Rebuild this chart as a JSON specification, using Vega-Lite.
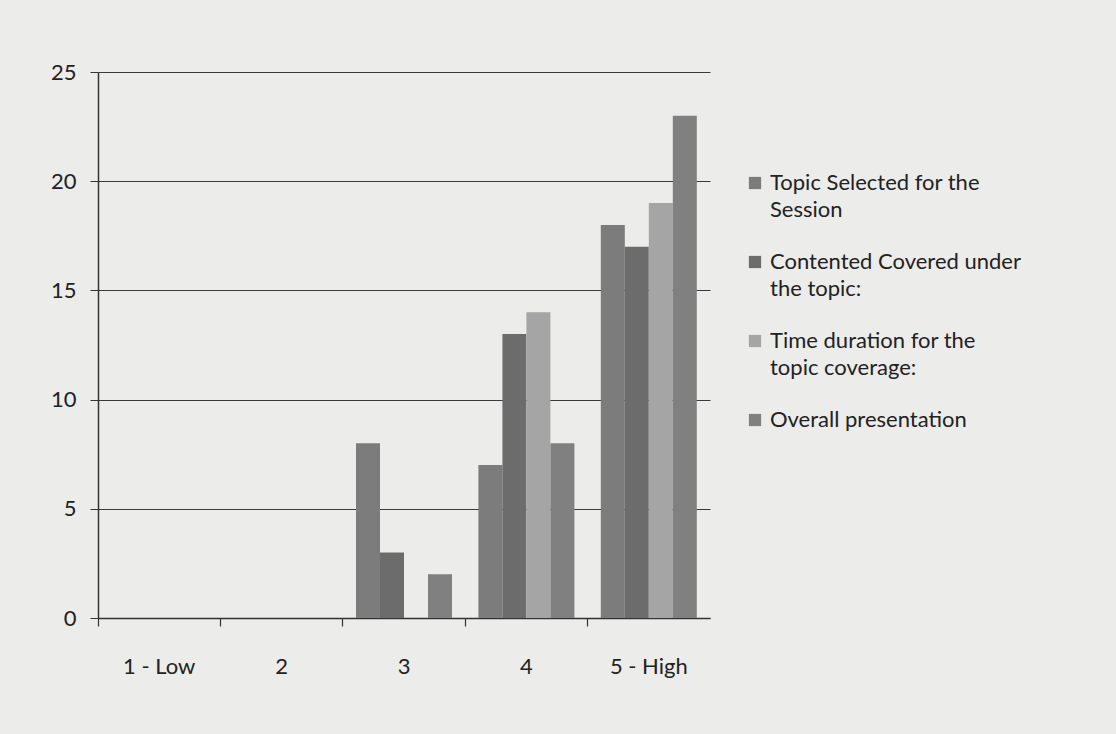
{
  "$schema": "https://vega.github.io/schema/vega-lite/v6.json",
  "autosize": "none",
  "width": 612,
  "height": 546,
  "padding": {"left": 98, "top": 72, "right": 406, "bottom": 116},
  "background": "#ececea",
  "config": {
    "view": {"stroke": null},
    "font": "Lato",
    "style": {"guide-label": {"lineHeight": 27}},
    "axis": {"labelFont": "Lato", "labelColor": "#222222", "domainColor": "#333333", "tickColor": "#333333", "gridColor": "#3a3a3a", "gridWidth": 1.2}
  },
  "data": {
    "values": [
      {"rating": "1 - Low", "series": "Topic Selected for the Session", "count": 0},
      {"rating": "1 - Low", "series": "Contented Covered under the topic:", "count": 0},
      {"rating": "1 - Low", "series": "Time duration for the topic coverage:", "count": 0},
      {"rating": "1 - Low", "series": "Overall presentation", "count": 0},
      {"rating": "2", "series": "Topic Selected for the Session", "count": 0},
      {"rating": "2", "series": "Contented Covered under the topic:", "count": 0},
      {"rating": "2", "series": "Time duration for the topic coverage:", "count": 0},
      {"rating": "2", "series": "Overall presentation", "count": 0},
      {"rating": "3", "series": "Topic Selected for the Session", "count": 8},
      {"rating": "3", "series": "Contented Covered under the topic:", "count": 3},
      {"rating": "3", "series": "Time duration for the topic coverage:", "count": 0},
      {"rating": "3", "series": "Overall presentation", "count": 2},
      {"rating": "4", "series": "Topic Selected for the Session", "count": 7},
      {"rating": "4", "series": "Contented Covered under the topic:", "count": 13},
      {"rating": "4", "series": "Time duration for the topic coverage:", "count": 14},
      {"rating": "4", "series": "Overall presentation", "count": 8},
      {"rating": "5 - High", "series": "Topic Selected for the Session", "count": 18},
      {"rating": "5 - High", "series": "Contented Covered under the topic:", "count": 17},
      {"rating": "5 - High", "series": "Time duration for the topic coverage:", "count": 19},
      {"rating": "5 - High", "series": "Overall presentation", "count": 23}
    ]
  },
  "mark": {"type": "bar"},
  "encoding": {
    "x": {
      "field": "rating",
      "type": "nominal",
      "sort": ["1 - Low", "2", "3", "4", "5 - High"],
      "scale": {"paddingInner": 0, "paddingOuter": 0},
      "axis": {
        "title": null,
        "labelAngle": 0,
        "labelFontSize": 22,
        "labelPadding": 30,
        "tickSize": 8,
        "tickWidth": 1.2,
        "bandPosition": 0,
        "domainWidth": 1.5
      }
    },
    "xOffset": {
      "field": "series",
      "type": "nominal",
      "sort": ["Topic Selected for the Session", "Contented Covered under the topic:", "Time duration for the topic coverage:", "Overall presentation"],
      "scale": {"paddingInner": 0, "paddingOuter": 0.55}
    },
    "y": {
      "field": "count",
      "type": "quantitative",
      "scale": {"domain": [0, 25]},
      "axis": {
        "title": null,
        "values": [0, 5, 10, 15, 20, 25],
        "labelFontSize": 22,
        "labelPadding": 14,
        "tickSize": 8,
        "grid": true,
        "domainWidth": 1.5
      }
    },
    "color": {
      "field": "series",
      "type": "nominal",
      "scale": {
        "domain": ["Topic Selected for the Session", "Contented Covered under the topic:", "Time duration for the topic coverage:", "Overall presentation"],
        "range": ["#7c7c7c", "#6c6c6c", "#a5a5a5", "#808080"]
      },
      "legend": {
        "title": null,
        "orient": "none",
        "legendX": 646,
        "legendY": 100,
        "symbolType": "square",
        "symbolSize": 150,
        "labelFontSize": 22,
        "labelColor": "#222222",
        "labelLimit": 400,
        "rowPadding": 30,
        "labelExpr": "datum.label == 'Topic Selected for the Session' ? ['Topic Selected for the', 'Session'] : datum.label == 'Contented Covered under the topic:' ? ['Contented Covered under', 'the topic:'] : datum.label == 'Time duration for the topic coverage:' ? ['Time duration for the', 'topic coverage:'] : datum.label"
      }
    }
  }
}
